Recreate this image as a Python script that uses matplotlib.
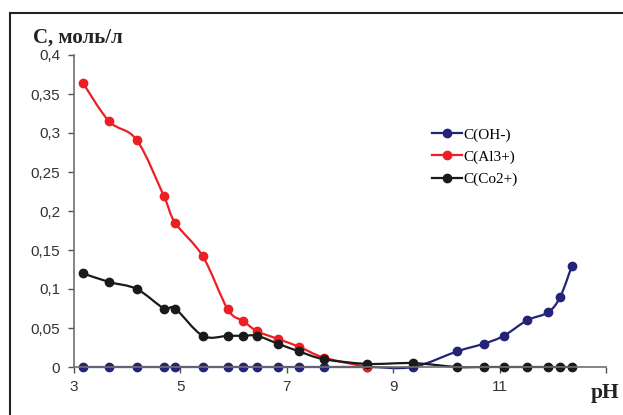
import numpy as np
import matplotlib
matplotlib.use("Agg")
import matplotlib.pyplot as plt
from matplotlib.path import Path
from matplotlib.patches import PathPatch, Rectangle
from matplotlib.lines import Line2D

# data
ph_oh = [3.17, 3.66, 4.18, 4.69, 4.90, 5.42, 5.89, 6.18, 6.44, 6.83, 7.23, 7.70, 8.51, 9.37,
         10.20, 10.71, 11.08, 11.52, 11.91, 12.14, 12.36]
c_oh = [0, 0, 0, 0, 0, 0, 0, 0, 0, 0, 0, 0, 0, 0,
        0.02, 0.03, 0.04, 0.06, 0.07, 0.09, 0.13]

ph_al = [3.17, 3.66, 4.18, 4.69, 4.90, 5.42, 5.89, 6.18, 6.44, 6.83, 7.23, 7.70, 8.51]
c_al = [0.364, 0.315, 0.291, 0.219, 0.185, 0.142, 0.074, 0.059, 0.046, 0.036, 0.026, 0.012, 0.0]

ph_co = ph_oh
c_co = [0.12, 0.109, 0.10, 0.075, 0.075, 0.04, 0.04, 0.04, 0.04, 0.03, 0.02, 0.01, 0.004, 0.005,
        0, 0, 0, 0, 0, 0, 0]

x_ticks = [3, 5, 7, 9, 11, 13]
x_labels = ["3", "5", "7", "9", "11", ""]
y_ticks = [0, 0.05, 0.1, 0.15, 0.2, 0.25, 0.3, 0.35, 0.4]
y_labels = ["0", "0,05", "0,1", "0,15", "0,2", "0,25", "0,3", "0,35", "0,4"]

series = [("C(OH-)", ph_oh, c_oh, "#232377"),
          ("C(Al3+)", ph_al, c_al, "#ec1f24"),
          ("C(Co2+)", ph_co, c_co, "#1a1a1a")]


def smooth_path(x, y):
    # excel-like smoothed line: bezier segments through the points
    p = np.column_stack([x, y]).astype(float)
    n = len(p)
    verts = [p[0]]
    codes = [Path.MOVETO]
    for i in range(n - 1):
        p0 = p[i - 1] if i > 0 else p[i]
        p3 = p[i + 2] if i + 2 < n else p[i + 1]
        c1 = p[i] + (p[i + 1] - p0) / 6
        c2 = p[i + 1] - (p3 - p[i]) / 6
        verts += [c1, c2, p[i + 1]]
        codes += [Path.CURVE4] * 3
    return Path(verts, codes)


fig = plt.figure(figsize=(6.23, 4.15), dpi=100)
W, H = 623, 415
ax = fig.add_axes([74 / W, (H - 367) / H, (606 - 74) / W, (367 - 55) / H])

handles = []
for name, x, y, col in series:
    ax.add_patch(PathPatch(smooth_path(x, y), facecolor="none", edgecolor=col, lw=1.6,
                           transform=ax.transData, clip_on=False))
    ax.plot(x, y, ls="none", marker="o", ms=6, color=col, clip_on=False)
    handles.append(Line2D([], [], color=col, lw=1.6, marker="o", ms=6))

ax.set_xlim(3, 13)
ax.set_ylim(0, 0.4)
ax.set_xticks(x_ticks)
ax.set_xticklabels(x_labels)
ax.set_yticks(y_ticks)
ax.set_yticklabels(y_labels)
for s in ["top", "right"]:
    ax.spines[s].set_visible(False)
for s in ["left", "bottom"]:
    ax.spines[s].set_color("#707070")
    ax.spines[s].set_linewidth(1.2)
ax.tick_params(direction="out", length=4, width=1, color="#505050",
               labelsize=11, labelcolor="#333333")
ax.tick_params(axis="y", pad=6)
ax.tick_params(axis="x", pad=5)
for lab in ax.get_xticklabels() + ax.get_yticklabels():
    lab.set_family("Liberation Sans")

leg = ax.legend(handles, [s[0] for s in series], loc="upper left",
                bbox_to_anchor=((418 - 74) / (606 - 74), (367 - 114) / (367 - 55)),
                frameon=False, handlelength=2.0, handletextpad=0.1, labelspacing=0.55,
                prop={"family": "Liberation Serif", "size": 11})

fig.text(33 / W, 1 - 43 / H, "C, моль/л", family="Liberation Serif", weight="bold",
         fontsize=15, color="#222222")
fig.text(591 / W, 1 - 398 / H, "pH", family="Liberation Serif", weight="bold",
         fontsize=15.5, color="#222222")

fig.patches.append(Rectangle((10 / W, -0.1), 1.2, 1 - 13 / H + 0.1, transform=fig.transFigure,
                             fill=False, ec="#222222", lw=1.5))

fig.savefig("out.png", dpi=100)
